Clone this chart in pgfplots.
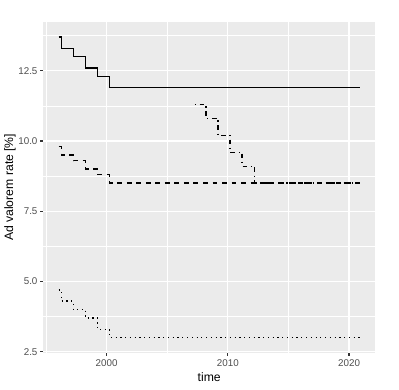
\documentclass[border=0pt]{standalone}
\usepackage{fontspec}
\setmainfont{Liberation Sans}
\usepackage{pgfplots}
\pgfplotsset{compat=1.18}
\definecolor{gray92}{HTML}{EBEBEB}
\definecolor{gray30}{HTML}{4D4D4D}
\definecolor{gray20}{HTML}{333333}

\begin{document}
\begin{tikzpicture}
\path[use as bounding box] (0,0) rectangle (399pt,389pt);
\begin{axis}[
    at={(43.5pt,36.3pt)}, anchor=south west,
    scale only axis,
    width=331.5pt, height=330.7pt,
    xmin=1994.79, xmax=2022.14,
    ymin=2.465, ymax=14.235,
    axis background/.style={fill=gray92},
    axis line style={draw=none},
    xtick={2000,2010,2020},
    minor xtick={1995,2005,2015},
    ytick={2.5,5,7.5,10,12.5},
    yticklabels={2.5,5.0,7.5,10.0,12.5},
    minor ytick={3.75,6.25,8.75,11.25,13.75},
    grid=both,
    major grid style={white, line width=1.2pt},
    minor grid style={white, line width=0.6pt},
    tick align=outside,
    xtick pos=bottom, ytick pos=left,
    major tick length=3.05pt,
    minor tick length=0pt,
    tick style={gray20, line width=1.2pt},
    /pgf/number format/1000 sep={},
    /pgf/number format/assume math mode=true,
    ticklabel style={font=\fontsize{9.8}{11}\selectfont, text=gray30, inner sep=0pt},
    xticklabel style={anchor=north, yshift=-4pt},
    yticklabel style={anchor=east, xshift=-2.8pt},
    xlabel={time},
    ylabel={Ad valorem rate [\%]},
    label style={font=\fontsize{12.2}{14}\selectfont},
    xlabel style={at={(axis description cs:0.5,0)}, anchor=center, yshift=-24.3pt},
    ylabel style={at={(axis description cs:0,0.5)}, anchor=center, yshift=33.5pt},
    every axis plot/.append style={black, line width=1.35pt, line cap=butt},
]
% solid
\addplot[const plot] coordinates {
(1996.04,13.7) (1996.25,13.3) (1997.25,13.0) (1998.25,12.6)
(1999.25,12.3) (2000.25,11.9) (2020.92,11.9)};
% dashed
\addplot[const plot, dash pattern=on 4.76pt off 4.76pt] coordinates {
(1996.04,9.8) (1996.25,9.5) (1997.25,9.3) (1998.25,9.0)
(1999.25,8.8) (2000.25,8.5) (2020.92,8.5)};
% dotted
\addplot[const plot, dash pattern=on 1.19pt off 3.57pt] coordinates {
(1996.04,4.7) (1996.25,4.3) (1997.25,4.0) (1998.25,3.7)
(1999.25,3.3) (2000.25,3.0) (2020.92,3.0)};
% dotdash
\addplot[const plot, dash pattern=on 1.19pt off 3.57pt on 4.76pt off 3.57pt] coordinates {
(2007.28,11.3) (2008.2,10.8) (2009.2,10.2) (2010.18,9.6)
(2011.18,9.1) (2012.2,8.5) (2020.92,8.5)};
\end{axis}
\end{tikzpicture}
\end{document}
